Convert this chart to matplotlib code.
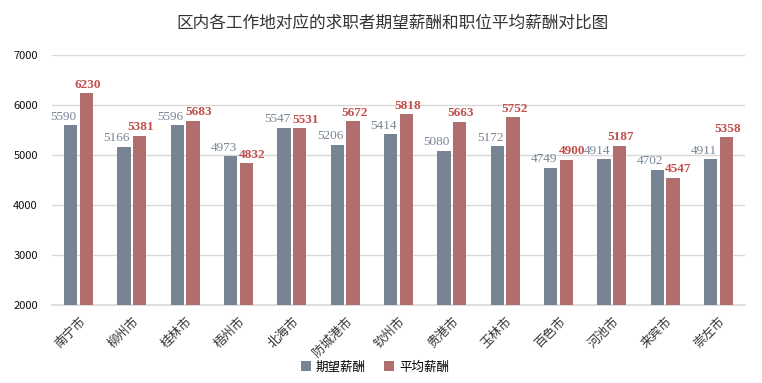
import matplotlib
matplotlib.use("Agg")
import matplotlib.pyplot as plt
import numpy as np

plt.rcParams['font.family'] = ['Noto Sans CJK SC', 'DejaVu Sans']

cities = ["南宁市", "柳州市", "桂林市", "梧州市", "北海市", "防城港市", "钦州市",
          "贵港市", "玉林市", "百色市", "河池市", "来宾市", "崇左市"]
expected = [5590, 5166, 5596, 4973, 5547, 5206, 5414, 5080, 5172, 4749, 4914, 4702, 4911]
average = [6230, 5381, 5683, 4832, 5531, 5672, 5818, 5663, 5752, 4900, 5187, 4547, 5358]

GRAY = "#778494"
RED = "#b06e6e"

fig = plt.figure(figsize=(7.62, 3.83), dpi=100)
ax = fig.add_axes([0.068, 0.2037, 0.91, 0.6527])

x = np.arange(len(cities))
w = 0.25
ax.bar(x - 0.145, expected, w, color=GRAY, label="期望薪酬", zorder=3)
ax.bar(x + 0.145, average, w, color=RED, label="平均薪酬", zorder=3)

# valeurs au-dessus des barres (décalage si les deux étiquettes se touchent)
for i in range(len(cities)):
    ax.text(x[i] - 0.28, expected[i] + 50, str(expected[i]), ha='center', va='bottom',
            fontsize=9.5, color="#7a8595", family='Liberation Serif', zorder=4)
    dx = 0.25 if abs(expected[i] - average[i]) < 200 else 0.17
    ax.text(x[i] + dx, average[i] + 50, str(average[i]), ha='center', va='bottom',
            fontsize=9.5, color="#c0504d", family='Liberation Serif', fontweight='bold', zorder=4)

ax.set_xlim(-0.5, len(cities) - 0.5)
ax.set_ylim(2000, 7000)
ax.set_yticks([2000, 3000, 4000, 5000, 6000, 7000])
ax.grid(axis='y', color="#d9d9d9", linewidth=1, zorder=0)
for s in ["top", "right", "left"]:
    ax.spines[s].set_visible(False)
ax.spines["bottom"].set_color("#d9d9d9")
ax.spines["bottom"].set_linewidth(1.2)

ax.set_xticks(x)
ax.set_xticklabels(cities, rotation=45, ha='right', rotation_mode='anchor',
                   fontsize=9, color="#333333")
ax.tick_params(axis='x', length=0, pad=7)
ax.tick_params(axis='y', length=0, pad=10, labelsize=8, labelcolor="#111111")

fig.text(0.515, 0.94, "区内各工作地对应的求职者期望薪酬和职位平均薪酬对比图",
         ha='center', va='center', fontsize=12, color="#333333")

fig.legend(loc='center', bbox_to_anchor=(0.492, 0.042), ncol=2, frameon=False,
           fontsize=9, handlelength=0.8, handleheight=0.8, columnspacing=1.5,
           handletextpad=0.4)

fig.savefig("out.png", dpi=100)
